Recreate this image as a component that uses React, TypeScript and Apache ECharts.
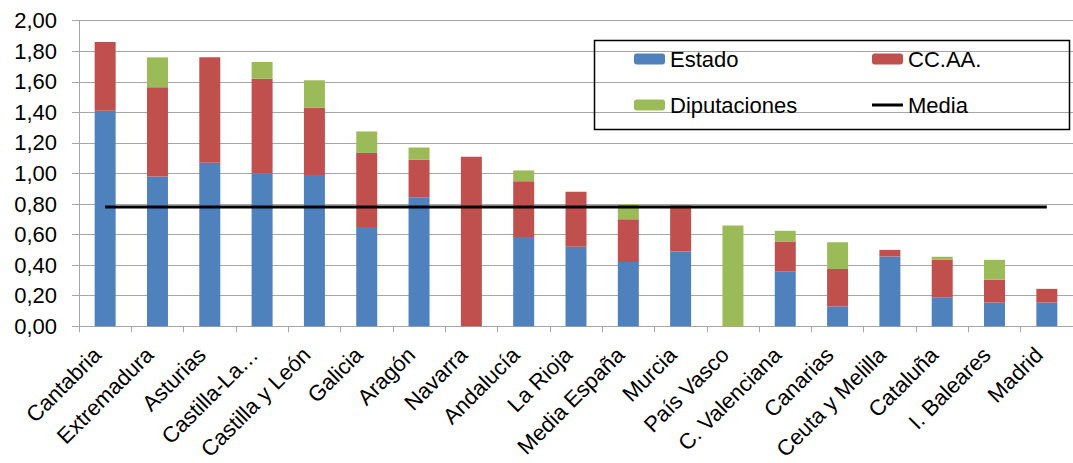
import React, { useEffect, useRef } from "react";
import * as echarts from "echarts";

const categories = [
  "Cantabria", "Extremadura", "Asturias", "Castilla-La…", "Castilla y León", "Galicia",
  "Aragón", "Navarra", "Andalucía", "La Rioja", "Media España", "Murcia", "País Vasco",
  "C. Valenciana", "Canarias", "Ceuta y Melilla", "Cataluña", "I. Baleares", "Madrid",
];
const estado = [1.41, 0.98, 1.07, 1.0, 0.99, 0.65, 0.845, 0, 0.585, 0.52, 0.42, 0.49, 0, 0.36, 0.13, 0.457, 0.19, 0.155, 0.155];
const ccaa = [0.45, 0.585, 0.69, 0.62, 0.44, 0.485, 0.245, 1.11, 0.365, 0.36, 0.28, 0.3, 0, 0.195, 0.245, 0.043, 0.245, 0.15, 0.09];
const diputaciones = [0, 0.195, 0, 0.11, 0.18, 0.14, 0.08, 0, 0.07, 0, 0.1, 0, 0.66, 0.07, 0.175, 0, 0.02, 0.13, 0];
const mediaValue = 0.78;
const media = categories.map(() => mediaValue);
const yTicks = { min: 0, max: 2, interval: 0.2 };

const FONT = "'Liberation Sans', Arial, sans-serif";

export default function App() {
  const ref = useRef<HTMLDivElement>(null);
  useEffect(() => {
    if (!ref.current) return;
    const chart = echarts.init(ref.current, undefined, { renderer: "svg" });
    const grey = "#a6a6a6";
    const textStyle = { fontFamily: FONT, fontSize: 22, color: "#000" };
    const lineIcon = "path://M0,0M0,4L31,4L31,7L0,7ZM31,11";
    chart.setOption({
      animation: false,
      backgroundColor: "#fff",
      grid: { left: 79, top: 20.7, bottom: 135.7, right: -12.3, containLabel: false },
      legend: [
        {
          left: 629, top: 43, orient: "vertical", itemGap: 24, itemWidth: 31, itemHeight: 11,
          textStyle: { ...textStyle }, data: ["Estado", "Diputaciones"], selectedMode: false,
        },
        {
          left: 867, top: 43, orient: "vertical", itemGap: 24, itemWidth: 31, itemHeight: 11,
          textStyle: { ...textStyle },
          data: ["CC.AA.", { name: "Media", icon: lineIcon, itemStyle: { color: "#000" } }],
          selectedMode: false,
        },
      ],
      graphic: [
        {
          type: "rect", left: 592, top: 38, shape: { x: 0, y: 0, width: 475, height: 89 },
          style: { fill: "none", stroke: "#000", lineWidth: 1.5 }, z: 10,
        },
      ],
      xAxis: {
        type: "category",
        data: categories,
        axisLine: { lineStyle: { color: grey, width: 1 } },
        axisTick: { show: true, length: 6, lineStyle: { color: grey } },
        axisLabel: { ...textStyle, rotate: 45, margin: 17, interval: 0, padding: [0, 11, 0, 0] },
      },
      yAxis: {
        type: "value",
        ...yTicks,
        axisLine: { show: true, lineStyle: { color: grey, width: 1 } },
        axisTick: { show: true, length: 7, lineStyle: { color: grey } },
        splitLine: { lineStyle: { color: grey, width: 1 } },
        axisLabel: {
          ...textStyle, margin: 22,
          formatter: (v: number) => v.toFixed(2).replace(".", ","),
        },
      },
      series: [
        { name: "Estado", type: "bar", stack: "t", data: estado, barWidth: 21, itemStyle: { color: "#4f81bd" } },
        { name: "CC.AA.", type: "bar", stack: "t", data: ccaa, barWidth: 21, itemStyle: { color: "#c0504d" } },
        { name: "Diputaciones", type: "bar", stack: "t", data: diputaciones, barWidth: 21, itemStyle: { color: "#9bbb59" } },
        {
          name: "Media", type: "line", data: media, symbol: "none", z: 5,
          lineStyle: { color: "#000", width: 3 }, itemStyle: { color: "#000" },
        },
      ],
    });
    return () => chart.dispose();
  }, []);
  return (
    <div
      ref={ref}
      style={{ position: "absolute", left: 0, top: 0, width: 1073, height: 463, overflow: "hidden" }}
    />
  );
}
